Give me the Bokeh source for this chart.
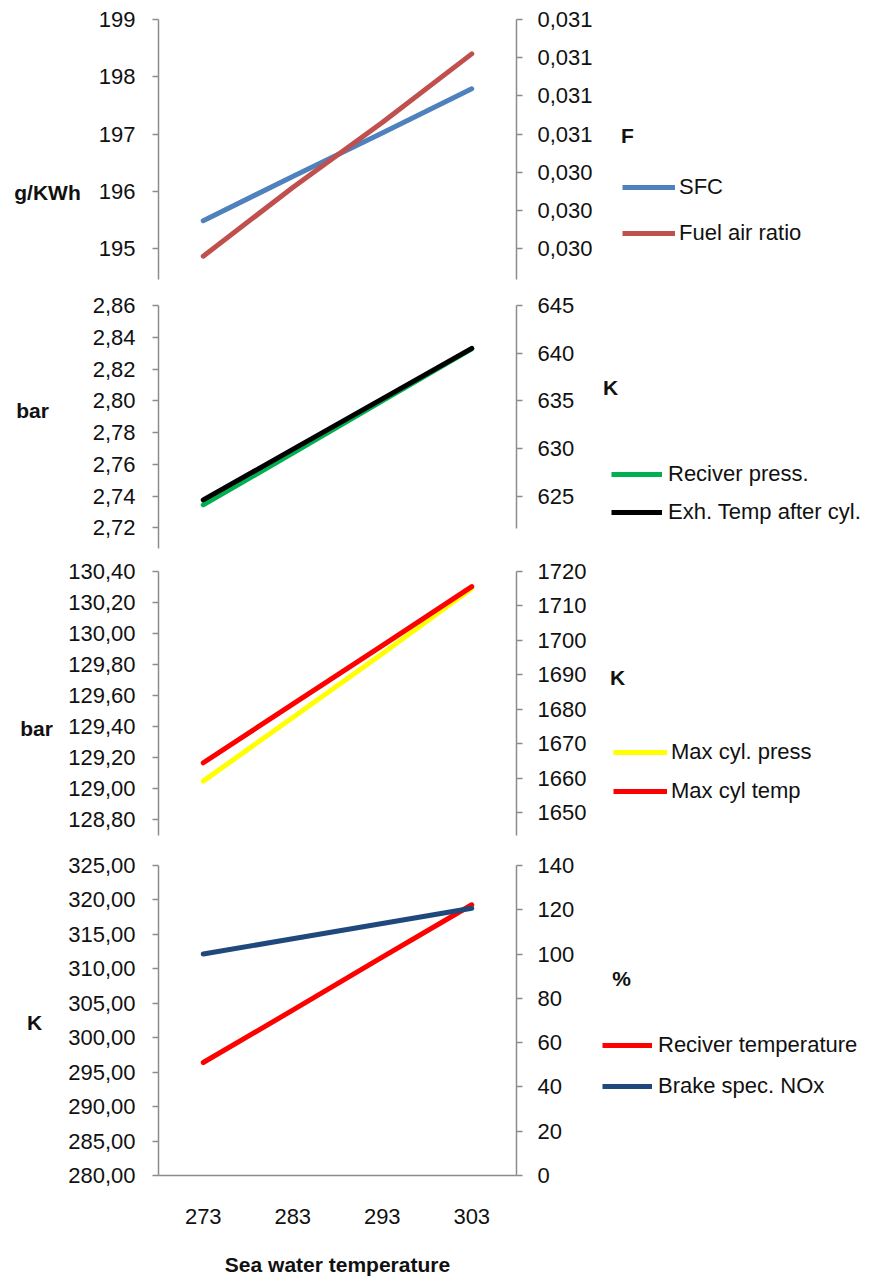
from bokeh.plotting import figure
from bokeh.models import (Range1d, LinearAxis, FixedTicker, CustomJSTickFormatter,
                          Legend, LegendItem, Label)
from bokeh.layouts import column, row
from bokeh.embed import file_html
from bokeh.resources import INLINE

# ---- data -------------------------------------------------------------
sea_temp = [273, 283, 293, 303]
sea_temp_labels = ["273", "283", "293", "303"]

sfc = [195.49, 196.26, 197.02, 197.79]                 # g/KWh
fuel_air_ratio = [0.03018, 0.03036, 0.03053, 0.03071]  # F
reciver_press = [2.7345, 2.767, 2.800, 2.8327]         # bar
exh_temp = [624.6, 629.9, 635.2, 640.5]                # K
max_cyl_press = [129.05, 129.46, 129.87, 130.29]       # bar
max_cyl_temp = [1664.5, 1681.5, 1698.5, 1715.6]        # K
reciver_temp = [296.4, 304.0, 311.7, 319.3]            # K
brake_nox = [100.0, 106.9, 113.8, 120.7]               # %

sfc_ticks = [195, 196, 197, 198, 199]
sfc_tick_labels = ["195", "196", "197", "198", "199"]
far_ticks = [0.0302, 0.0303, 0.0304, 0.0305, 0.0306, 0.0307, 0.0308]
far_tick_labels = ["0,030", "0,030", "0,030", "0,031", "0,031", "0,031", "0,031"]
press_ticks = [2.72, 2.74, 2.76, 2.78, 2.80, 2.82, 2.84, 2.86]
press_tick_labels = ["2,72", "2,74", "2,76", "2,78", "2,80", "2,82", "2,84", "2,86"]
exh_ticks = [625, 630, 635, 640, 645]
exh_tick_labels = ["625", "630", "635", "640", "645"]
mcp_ticks = [128.8, 129.0, 129.2, 129.4, 129.6, 129.8, 130.0, 130.2, 130.4]
mcp_tick_labels = ["128,80", "129,00", "129,20", "129,40", "129,60",
                   "129,80", "130,00", "130,20", "130,40"]
mct_ticks = [1650, 1660, 1670, 1680, 1690, 1700, 1710, 1720]
mct_tick_labels = ["1650", "1660", "1670", "1680", "1690", "1700", "1710", "1720"]
rt_ticks = [280, 285, 290, 295, 300, 305, 310, 315, 320, 325]
rt_tick_labels = ["280,00", "285,00", "290,00", "295,00", "300,00",
                  "305,00", "310,00", "315,00", "320,00", "325,00"]
nox_ticks = [0, 20, 40, 60, 80, 100, 120, 140]
nox_tick_labels = ["0", "20", "40", "60", "80", "100", "120", "140"]

# ---- styling / page geometry ------------------------------------------------
FONT = "Liberation Sans"
AXIS_GREY = "#8c8c8c"
TEXT = "#111111"
LW = 5
PAGE_W = 874
AXIS_X = 158        # left value axis
FRAME_W = 358       # plotting area width
SIDE_X = 600        # start of the legend column

LOOKUP = """
let best = 0;
for (let i = 1; i < vals.length; i++) {
  if (Math.abs(vals[i] - tick) < Math.abs(vals[best] - tick)) best = i;
}
return labs[best];
"""


def fmt(vals, labs):
    return CustomJSTickFormatter(args=dict(vals=vals, labs=labs), code=LOOKUP)


def style_axis(ax, vals, labs, standoff):
    ax.ticker = FixedTicker(ticks=vals)
    ax.formatter = fmt(vals, labs)
    ax.axis_line_color = AXIS_GREY
    ax.axis_line_width = 1.5
    ax.major_tick_line_color = AXIS_GREY
    ax.major_tick_line_width = 1.5
    ax.major_tick_out = 6
    ax.major_tick_in = 0
    ax.minor_tick_line_color = None
    ax.major_label_text_font = FONT
    ax.major_label_text_font_size = "22px"
    ax.major_label_text_color = TEXT
    ax.major_label_standoff = standoff


def blank(width, height, top, bottom, x0, frame_top, frame_bottom):
    """Axis-less strip whose data coordinates are page pixels."""
    f = figure(width=width, height=height,
               x_range=Range1d(x0, x0 + width), y_range=Range1d(frame_bottom, frame_top),
               min_border_left=0, min_border_right=0,
               min_border_top=top, min_border_bottom=bottom,
               x_axis_type=None, y_axis_type=None,
               output_backend="svg", toolbar_location=None, tools="")
    f.outline_line_color = None
    f.grid.visible = False
    return f


def caption(f, x, y, text):
    f.add_layout(Label(x=x, y=y, text=text, text_align="center",
                       text_baseline="middle", text_font=FONT,
                       text_font_size="21px", text_font_style="bold",
                       text_color=TEXT))


def make_row(height, top, bottom, left_w, left_range, right_range,
             left_ticks, left_labels, right_ticks, right_labels,
             series, legend_loc, glyph_w, standoff, spacing,
             left_unit, right_unit, right_bounds=None, show_x=False):
    frame_top = top
    frame_bottom = height - bottom
    main_w = SIDE_X - left_w
    p = figure(width=main_w, height=height,
               x_range=Range1d(268, 308), y_range=Range1d(*left_range),
               min_border_left=AXIS_X - left_w, min_border_right=SIDE_X - AXIS_X - FRAME_W,
               min_border_top=top, min_border_bottom=bottom,
               output_backend="svg", toolbar_location=None, tools="")
    p.outline_line_color = None
    p.grid.visible = False
    p.extra_y_ranges = {"right": Range1d(*right_range)}

    style_axis(p.yaxis[0], left_ticks, left_labels, 17)
    right = LinearAxis(y_range_name="right")
    style_axis(right, right_ticks, right_labels, 15)
    if right_bounds is not None:
        right.bounds = right_bounds
    p.add_layout(right, "right")

    if not show_x:
        p.xaxis.visible = False

    # left strip with the primary unit
    lf = blank(left_w, height, top, bottom, 0, frame_top, frame_bottom)
    caption(lf, left_unit[0], left_unit[1], left_unit[2])

    # right strip with the secondary unit and the legend
    rf = blank(PAGE_W - SIDE_X, height, top, bottom, SIDE_X, frame_top, frame_bottom)
    caption(rf, right_unit[0], right_unit[1], right_unit[2])

    items = []
    for name, ys, color, on_right in series:
        kw = dict(y_range_name="right") if on_right else {}
        p.line(sea_temp, ys, line_color=color, line_width=LW,
               line_cap="round", line_join="round", **kw)
        # same series in the legend strip; it lies outside that strip's view
        # and only supplies the legend key
        key = rf.line(sea_temp, ys, line_color=color, line_width=LW, line_cap="butt")
        items.append(LegendItem(label=name, renderers=[key]))

    leg = Legend(items=items, location=legend_loc, orientation="vertical",
                 glyph_width=glyph_w, glyph_height=28, label_height=28,
                 label_standoff=standoff, spacing=spacing,
                 padding=0, margin=0, border_line_color=None,
                 background_fill_alpha=0,
                 label_text_font=FONT, label_text_font_size="22px",
                 label_text_color=TEXT)
    rf.add_layout(leg)
    return p, row(lf, p, rf, spacing=0)


# ---- panel 1: SFC / fuel air ratio ---------------------------------------------
p1, row1 = make_row(
    292, 19, 13, 88, (194.463, 199.0), (0.030119, 0.0308),
    sfc_ticks, sfc_tick_labels, far_ticks, far_tick_labels,
    [("SFC", sfc, "#4F81BD", False),
     ("Fuel air ratio", fuel_air_ratio, "#C0504D", True)],
    (22, 32), 53, 4, 18,
    (47, 192, "g/KWh"), (627, 135, "F"))

# ---- panel 2: receiver pressure / exhaust temperature -----------------------------
p2, row2 = make_row(
    266, 13, 10, 60, (2.707, 2.86), (619.5, 645.0),
    press_ticks, press_tick_labels, exh_ticks, exh_tick_labels,
    [("Reciver press.", reciver_press, "#00B050", False),
     ("Exh. Temp after cyl.", exh_temp, "#000000", True)],
    (11, 22), 51, 6, 10,
    (32, 410 - 292, "bar"), (610, 387 - 292, "K"),
    right_bounds=(621.6, 645.0))

# ---- panel 3: max cylinder pressure / temperature -------------------------------
p3, row3 = make_row(
    289, 13, 12, 60, (128.70, 130.4), (1643.4, 1720.0),
    mcp_ticks, mcp_tick_labels, mct_ticks, mct_tick_labels,
    [("Max cyl. press", max_cyl_press, "#FFFF00", False),
     ("Max cyl temp", max_cyl_temp, "#FF0000", True)],
    (13, 30), 54, 4, 11,
    (36, 728 - 558, "bar"), (617, 677 - 558, "K"))

# ---- panel 4: receiver temperature / brake specific NOx -------------------------
p4, row4 = make_row(
    434, 18, 106, 60, (280.0, 325.0), (0.0, 140.0),
    rt_ticks, rt_tick_labels, nox_ticks, nox_tick_labels,
    [("Reciver temperature", reciver_temp, "#FF0000", False),
     ("Brake spec. NOx", brake_nox, "#1F497D", True)],
    (2, 75), 50, 6, 13,
    (34, 1022 - 847, "K"), (621, 978 - 847, "%"),
    show_x=True)

xa = p4.xaxis[0]
xa.ticker = FixedTicker(ticks=sea_temp)
xa.formatter = fmt(sea_temp, sea_temp_labels)
xa.axis_line_color = AXIS_GREY
xa.axis_line_width = 1.5
xa.major_tick_line_color = None
xa.minor_tick_line_color = None
xa.major_tick_out = 0
xa.major_tick_in = 0
xa.major_label_text_font = FONT
xa.major_label_text_font_size = "22px"
xa.major_label_text_color = TEXT
xa.major_label_standoff = 33
xa.axis_label = "Sea water temperature"
xa.axis_label_text_font = FONT
xa.axis_label_text_font_size = "21px"
xa.axis_label_text_font_style = "bold"
xa.axis_label_text_color = TEXT
xa.axis_label_standoff = 26

layout = column(row1, row2, row3, row4, spacing=0)
open("out.html", "w").write(file_html(layout, INLINE))
